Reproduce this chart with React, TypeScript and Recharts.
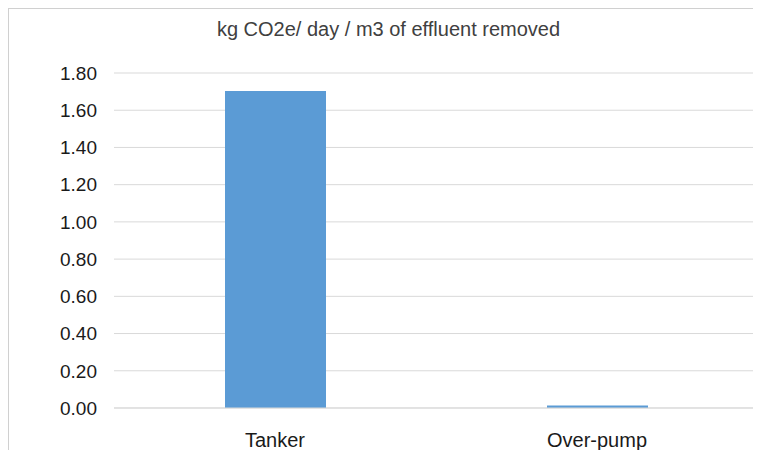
import { Bar, BarChart, CartesianGrid, XAxis, YAxis } from 'recharts';

const categories = ['Tanker', 'Over-pump'];
const emissions = [1.703, 0.013];
const yTicks = [0, 0.2, 0.4, 0.6, 0.8, 1.0, 1.2, 1.4, 1.6, 1.8];
const chartTitle = 'kg CO2e/ day / m3 of effluent removed';

const data = categories.map((name, i) => ({ name, value: emissions[i] }));

const font = '"Liberation Sans", Arial, sans-serif';
const frame = '#d0d0d0';

export default function App() {
  return (
    <div style={{ position: 'relative', width: 753, height: 442, fontFamily: font }}>
      <div style={{ position: 'absolute', left: -1, top: -1, width: 2, height: 443, background: frame }} />
      <div style={{ position: 'absolute', left: -1, top: -1, width: 754, height: 2, background: frame }} />
      <div
        style={{
          position: 'absolute',
          left: 8,
          top: 10,
          width: 745,
          textAlign: 'center',
          fontSize: 20,
          color: '#404040',
          whiteSpace: 'nowrap',
        }}
      >
        {chartTitle}
      </div>
      <BarChart
        width={753}
        height={442}
        data={data}
        margin={{ top: 65, right: 3, bottom: 12, left: 16 }}
        barSize={101}
        style={{ fontFamily: font }}
      >
        <CartesianGrid vertical={false} stroke="#d9d9d9" />
        <XAxis
          dataKey="name"
          height={30}
          axisLine={{ stroke: '#d9d9d9' }}
          tickLine={false}
          tickMargin={19}
          tick={{ fill: '#1a1a1a', fontSize: 20 }}
        />
        <YAxis
          width={90}
          domain={[0, 1.8]}
          ticks={yTicks}
          interval={0}
          axisLine={false}
          tickLine={false}
          tickMargin={11}
          tickFormatter={(v: number) => v.toFixed(2)}
          tick={{ fill: '#1a1a1a', fontSize: 19 }}
        />
        <Bar dataKey="value" fill="#5b9bd5" isAnimationActive={false} />
      </BarChart>
    </div>
  );
}
